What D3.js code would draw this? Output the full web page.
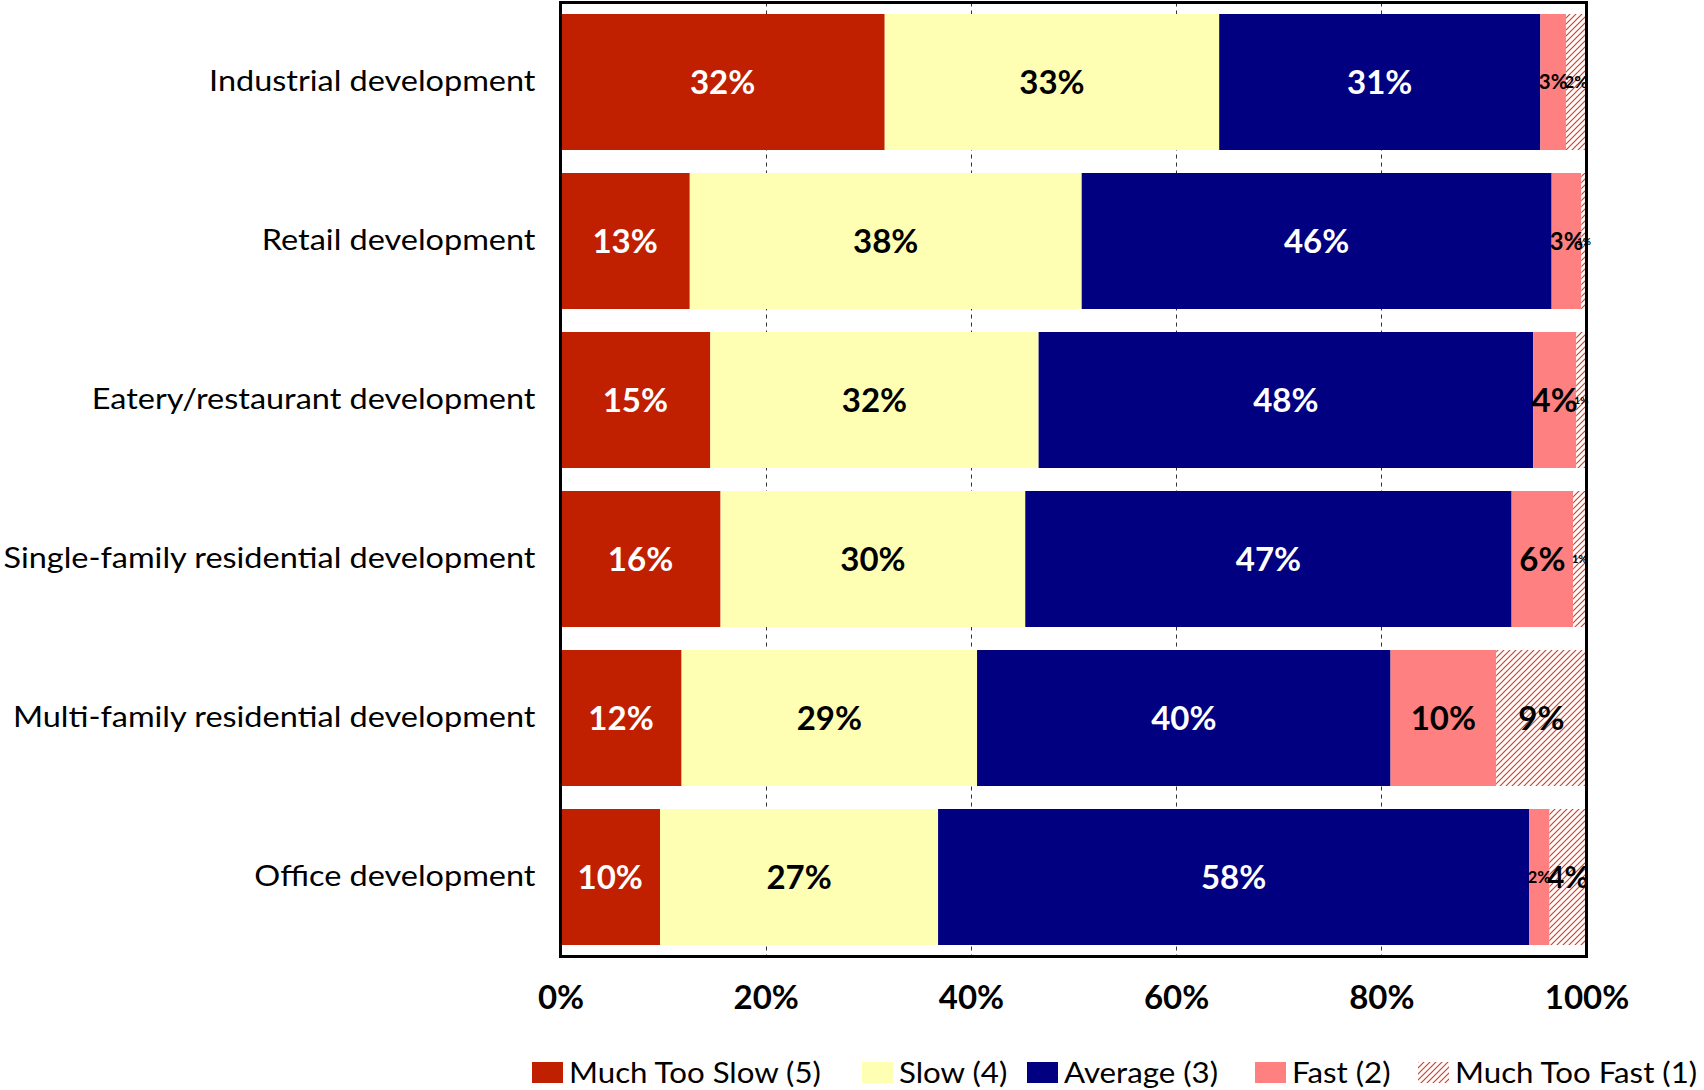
<!DOCTYPE html>
<html>
<head>
<meta charset="utf-8">
<script src="https://cdn.jsdelivr.net/npm/d3@7/dist/d3.min.js"></script>
<style>
  html, body { margin: 0; padding: 0; background: #fff; }
  svg { display: block; font-family: Lato, "Open Sans", sans-serif; }
</style>
</head>
<body>
<svg id="chart" width="1704" height="1090"></svg>
<script>
// Perceived speed of development review, by project type (percent of responses)
const categories = [
  "Industrial development",
  "Retail development",
  "Eatery/restaurant development",
  "Single-family residential development",
  "Multi-family residential development",
  "Office development"
];
const seriesNames = ["Much Too Slow (5)", "Slow (4)", "Average (3)", "Fast (2)", "Much Too Fast (1)"];
const muchTooSlow = [31.6, 12.6, 14.6, 15.6, 11.8, 9.7];
const slow        = [32.6, 38.2, 32.0, 29.7, 28.8, 27.1];
const average     = [31.3, 45.8, 48.2, 47.4, 40.3, 57.6];
const fast        = [2.5, 2.9, 4.2, 6.0, 10.3, 2.0];
const muchTooFast = [2.0, 0.5, 1.0, 1.3, 8.8, 3.6];
const tickValues  = [0, 20, 40, 60, 80, 100];

const seriesValues = [muchTooSlow, slow, average, fast, muchTooFast];
const fills = ["#c02000", "#ffffb3", "#000080", "#ff8080", "url(#hatch)"];
const labelColors = ["#fff", "#000", "#fff", "#000", "#000"];
const textStretch = 1.1;

const svg = d3.select("#chart");

// diagonal hatch for the last series
const defs = svg.append("defs");
const pat = defs.append("pattern")
  .attr("id", "hatch").attr("patternUnits", "userSpaceOnUse")
  .attr("width", 6).attr("height", 6);
pat.append("rect").attr("width", 6).attr("height", 6).attr("fill", "#fff");
pat.append("path")
  .attr("d", "M0,6 L6,0 M-1,1 L1,-1 M5,7 L7,5")
  .attr("stroke", "#d4402a").attr("stroke-width", 1.2);

const plot = { left: 560.5, right: 1586.5, top: 2.5, bottom: 956.5 };

const x = d3.scaleLinear().domain([0, 100]).range([plot.left, plot.right]);
const y = d3.scaleBand().domain(categories)
  .range([plot.top, plot.bottom])
  .paddingInner(0.1447).paddingOuter(0.0723);

// stacked rows
const rows = categories.map((c, i) => {
  const r = { category: c };
  seriesNames.forEach((s, k) => { r[s] = seriesValues[k][i]; });
  return r;
});
const stacked = d3.stack().keys(seriesNames)(rows);

// dashed gridlines
svg.append("g").selectAll("line")
  .data(tickValues.filter(v => v > 0 && v < 100))
  .join("line")
  .attr("x1", d => Math.round(x(d)) + 0.5).attr("x2", d => Math.round(x(d)) + 0.5)
  .attr("y1", plot.top).attr("y2", plot.bottom)
  .attr("stroke", "#333").attr("stroke-width", 1)
  .attr("stroke-dasharray", "4,4");

// bars
const layers = svg.append("g").selectAll("g")
  .data(stacked).join("g")
  .attr("fill", (d, k) => fills[k]);

layers.selectAll("rect")
  .data(d => d)
  .join("rect")
  .attr("x", d => x(d[0]))
  .attr("width", d => x(d[1]) - x(d[0]))
  .attr("y", d => y(d.data.category))
  .attr("height", y.bandwidth());

// value labels
const labels = svg.append("g")
  .attr("font-weight", 700)
  .attr("text-anchor", "middle");

stacked.forEach((layer, k) => {
  labels.append("g").attr("fill", labelColors[k])
    .selectAll("text")
    .data(layer)
    .join("text")
    .attr("x", d => (x(d[0]) + x(d[1])) / 2)
    .attr("y", d => y(d.data.category) + y.bandwidth() / 2)
    .attr("dy", "0.36em")
    .attr("font-size", d => {
      const w = x(d[1]) - x(d[0]);
      return Math.max(10, Math.min(33, w * 0.8));
    })
    .text(d => Math.round(d[1] - d[0]) + "%");
});

// plot frame
svg.append("rect")
  .attr("x", plot.left).attr("y", plot.top)
  .attr("width", plot.right - plot.left).attr("height", plot.bottom - plot.top)
  .attr("fill", "none").attr("stroke", "#000").attr("stroke-width", 3);

// category axis
const yAxis = svg.append("g")
  .attr("transform", `translate(${plot.left - 25},0)`)
  .call(d3.axisLeft(y).tickSize(0).tickPadding(0));
yAxis.select(".domain").remove();
yAxis.selectAll("text")
  .attr("font-family", "Lato, 'Open Sans', sans-serif")
  .attr("font-size", 29.5).attr("fill", "#000")
  .attr("x", 0)
  .attr("transform", `scale(${textStretch},1)`);

// percent axis
const xAxis = svg.append("g")
  .attr("transform", `translate(0,${plot.bottom})`)
  .call(d3.axisBottom(x).tickValues(tickValues).tickFormat(d => d + "%").tickSize(0).tickPadding(0));
xAxis.select(".domain").remove();
xAxis.selectAll("text")
  .attr("font-family", "Lato, 'Open Sans', sans-serif")
  .attr("font-size", 33).attr("font-weight", 700).attr("fill", "#000")
  .attr("dy", null).attr("y", 52);

// legend: one slot per series along the bottom
const legendSlots = [532, 862, 1027, 1255, 1418];
const legend = svg.append("g").attr("transform", "translate(0,1062)");
seriesNames.forEach((name, k) => {
  const g = legend.append("g").attr("transform", `translate(${legendSlots[k]},0)`);
  g.append("rect").attr("width", 31).attr("height", 21).attr("fill", fills[k]);
  g.append("text")
    .attr("transform", "translate(37,21) scale(1.06,1)")
    .attr("font-size", 29.5).attr("fill", "#000")
    .text(name);
});
</script>
</body>
</html>
